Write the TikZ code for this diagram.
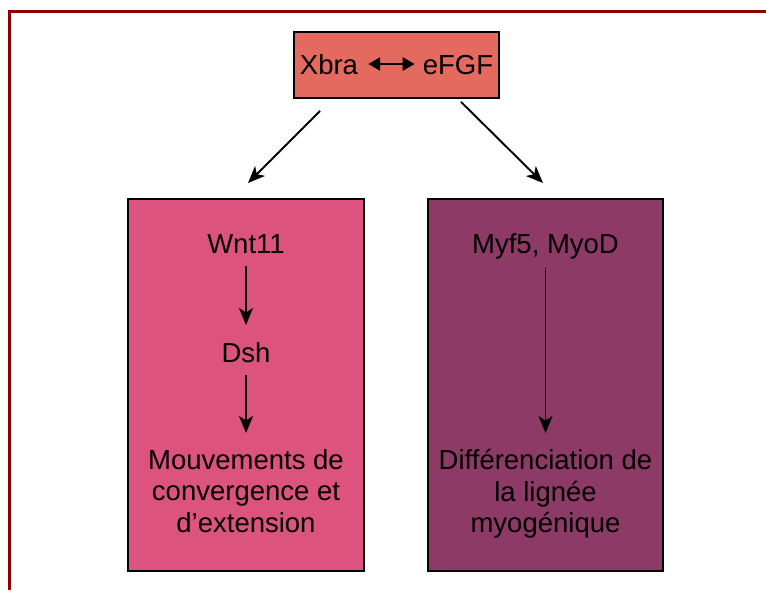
\documentclass[tikz,border=0pt]{standalone}
\usepackage{fontspec}
\setmainfont{Liberation Sans}
\usetikzlibrary{arrows.meta}
\definecolor{framered}{HTML}{8B0000}
\definecolor{topfill}{RGB}{228,106,96}
\definecolor{leftfill}{RGB}{220,83,128}
\definecolor{rightfill}{RGB}{141,58,103}
\tikzset{
  box/.style={draw=black, line width=1.8pt, inner sep=0pt},
  lbl/.style={inner sep=0pt, text=black},
  multi/.style={inner sep=0pt, align=center, text=black},
  arr/.style={line width=1.9pt, -{Stealth[length=17pt,width=14pt,inset=4.5pt]}},
  dblarr/.style={line width=2.4pt, {Triangle[length=12pt,width=13pt]}-{Triangle[length=12pt,width=13pt]}},
  frameline/.style={draw=framered, line width=3pt}
}
\begin{document}
\begin{tikzpicture}[x=1pt,y=-1pt,font=\fontsize{27.5}{31.6}\selectfont]
\useasboundingbox (0,0) rectangle (766,590);
% frame
\draw[frameline] (9,590) -- (9,11) -- (766,11);
% boxes
\node[box, fill=topfill, minimum width=205pt, minimum height=66pt] (top) at (396.5,65) {};
\node[lbl, anchor=base] (xbra) at (329,74) {Xbra};
\node[lbl, anchor=base] (efgf) at (458,74) {eFGF};
\node[box, fill=leftfill, minimum width=236pt, minimum height=372pt] (lbox) at (246,385) {};
\node[box, fill=rightfill, minimum width=235pt, minimum height=372pt] (rbox) at (545.5,385) {};
% left contents
\node[lbl, anchor=base] (wnt) at (246,253) {Wnt11};
\node[lbl, anchor=base] (dsh) at (246,362) {Dsh};
\node[multi, anchor=north] (mouv) at (246,449) {Mouvements de\\convergence et\\d’extension};
% right contents
\node[lbl, anchor=base] (myf) at (545.5,253) {Myf5, MyoD};
\node[multi, anchor=north] (diff) at (545.5,449) {Différenciation de\\la lignée\\myogénique};
% connectors
\draw[dblarr] ([shift={(10,-10)}]xbra.base east) -- ([shift={(-8,-10)}]efgf.base west);
\coordinate (lend) at (248,183);
\coordinate (rend) at (543,183);
\draw[arr] ([shift={(-76.5,12)}]top.south) -- (lend);
\draw[arr] ([shift={(64.5,3)}]top.south) -- (rend);
\draw[arr] ([yshift=-13pt]wnt.base) -- ([yshift=37pt]dsh.base);
\draw[arr] ([yshift=-13pt]dsh.base) -- ([yshift=16pt]mouv.north);
\draw[arr] ([yshift=-15pt]myf.base) -- ([yshift=16pt]diff.north);
\end{tikzpicture}
\end{document}
